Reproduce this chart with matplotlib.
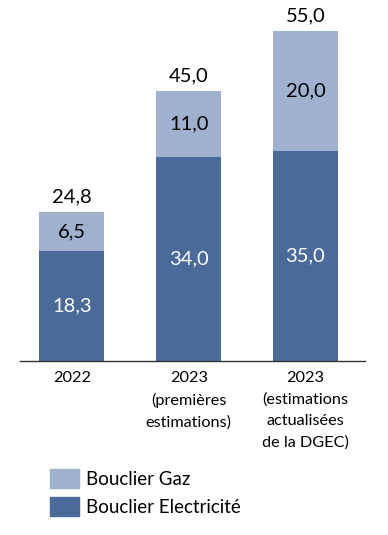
import matplotlib.pyplot as plt
from matplotlib.patches import Patch

# data
categories = ["2022", "2023\n(premières\nestimations)", "2023\n(estimations\nactualisées\nde la DGEC)"]
elec = [18.3, 34.0, 35.0]
gaz = [6.5, 11.0, 20.0]
totals = [24.8, 45.0, 55.0]

col_elec = "#4a6a9a"
col_gaz = "#9fb1cf"

plt.rcParams['font.family'] = ['Lato', 'DejaVu Sans']

def fr(v):
    return f"{v:.1f}".replace(".", ",")

fig = plt.figure(figsize=(3.88, 5.35), dpi=100)
ax = fig.add_axes([20 / 388, 174 / 535, 345 / 388, 361 / 535])

x = list(range(len(categories)))
w = 0.557
ax.bar(x, elec, width=w, color=col_elec)
ax.bar(x, gaz, width=w, bottom=elec, color=col_gaz)

# values inside the segments and totals on top
for i in x:
    ax.text(i, elec[i] / 2, fr(elec[i]), ha='center', va='center', color='white', fontsize=14.5)
    ax.text(i, elec[i] + gaz[i] / 2, fr(gaz[i]), ha='center', va='center', color='black', fontsize=14.5)
    ax.text(i, totals[i] + 2.6, fr(totals[i]), ha='center', va='center', color='black', fontsize=14.5)

ax.set_xlim(-0.445, 2.51)
ax.set_ylim(0, 361 / 6)
ax.set_xticks(x)
ax.set_xticklabels(categories, fontsize=11.7, linespacing=1.65)
ax.tick_params(axis='x', length=0, pad=7)
ax.set_yticks([])
for s in ['top', 'right', 'left']:
    ax.spines[s].set_visible(False)
ax.spines['bottom'].set_color('#333333')
ax.spines['bottom'].set_linewidth(1)

handles = [Patch(color=col_gaz, label="Bouclier Gaz"),
           Patch(color=col_elec, label="Bouclier Electricité")]
fs_leg = 13.5
fig.legend(handles=handles, loc='upper left', bbox_to_anchor=(50 / 388, 1 - 469 / 535),
           frameon=False, fontsize=fs_leg, handlelength=29 / (fs_leg * 100 / 72),
           handleheight=22 / (fs_leg * 100 / 72), labelspacing=9 / (fs_leg * 100 / 72),
           handletextpad=7 / (fs_leg * 100 / 72), borderpad=0, borderaxespad=0)

fig.savefig("out.png", dpi=100)
